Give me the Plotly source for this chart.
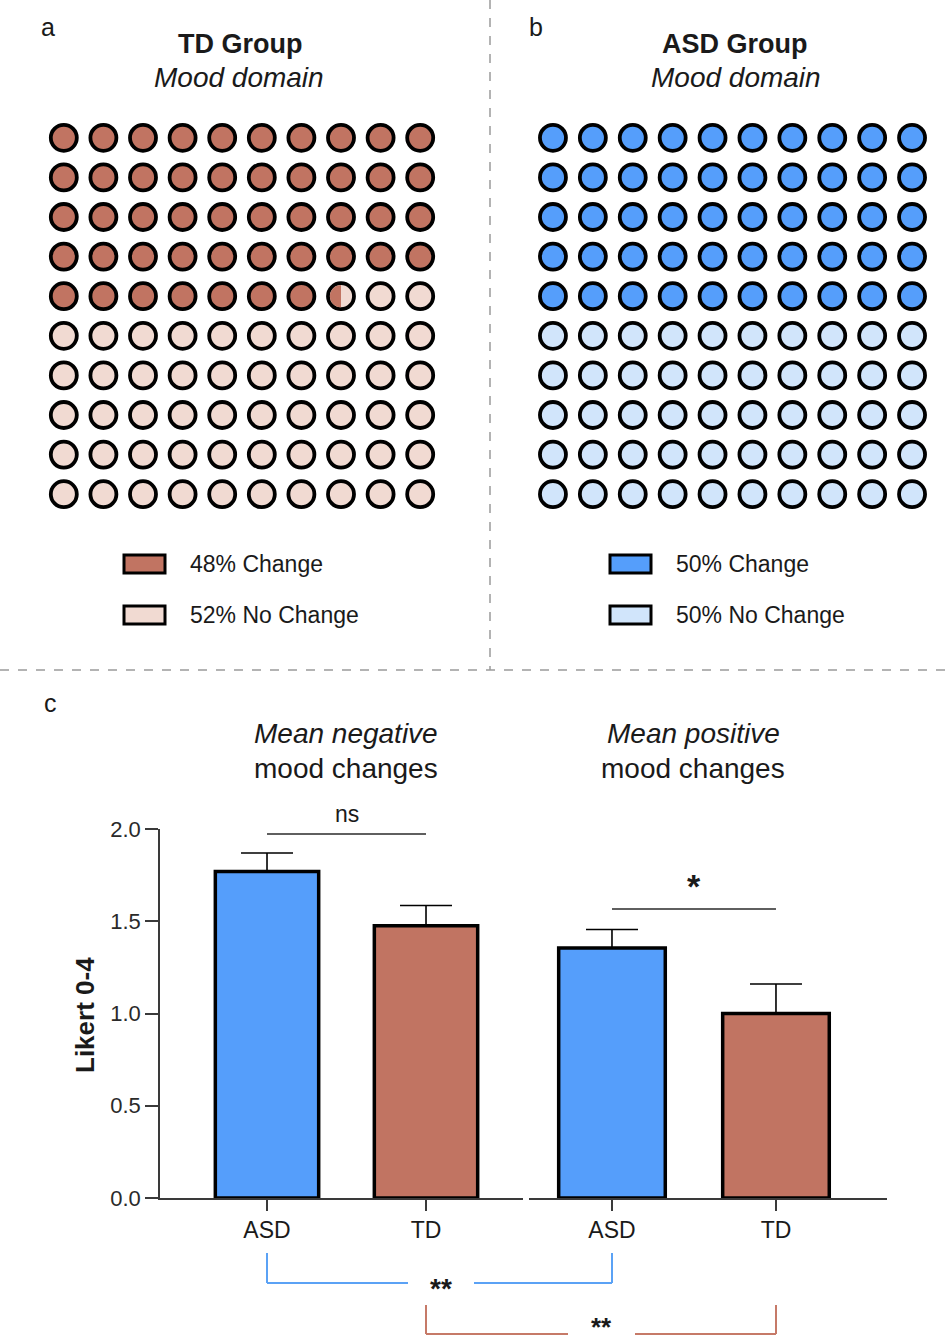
import numpy as np
import plotly.graph_objects as go

# ---------------- data ----------------
# waffle panels (percent of participants)
td_change_pct = 47.5
asd_change_pct = 50.0
td_legend_labels = ["48% Change", "52% No Change"]
asd_legend_labels = ["50% Change", "50% No Change"]

# bar panel
groups = ["ASD", "TD"]
neg_means = [1.77, 1.475]
neg_sem = [0.10, 0.11]
pos_means = [1.355, 1.00]
pos_sem = [0.10, 0.16]
ns_level = 1.973
star_level = 1.566

# ---------------- style ----------------
W, H = 946, 1342
FONT = "Liberation Sans, Arial, Helvetica, sans-serif"
TXT = "#1a1a1a"
TD_DARK = "#C17462"
TD_LIGHT = "#F1DAD2"
ASD_DARK = "#559EFB"
ASD_LIGHT = "#D1E5FB"
AXC = "#3a3a3a"


def px(x):
    return x / W


def py(y):
    return 1 - y / H


fig = go.Figure()

# ---------------- waffles ----------------
NCOL = NROW = 10
cols = np.tile(np.arange(NCOL), NROW)
rows = np.repeat(np.arange(NROW), NCOL)
MSIZE = 26
MLINE = 3.8


def waffle_colors(pct, dark, light):
    n_full = int(np.floor(pct))
    return [dark if k < n_full else light for k in range(NCOL * NROW)]


for pct, dark, light, xa, ya in [
    (td_change_pct, TD_DARK, TD_LIGHT, "x3", "y3"),
    (asd_change_pct, ASD_DARK, ASD_LIGHT, "x4", "y4"),
]:
    fig.add_trace(go.Scatter(
        x=cols, y=rows, mode="markers", xaxis=xa, yaxis=ya,
        marker=dict(size=MSIZE, color=waffle_colors(pct, dark, light),
                    line=dict(color="black", width=MLINE)),
        showlegend=False, hoverinfo="skip"))
    frac = pct - np.floor(pct)
    if frac > 0:
        k = int(np.floor(pct))
        cx, cy = cols[k], rows[k]
        r = (MSIZE / 2 - MLINE / 2) / 39.6
        cut = cx - r + 2 * r * frac
        th0 = np.arccos(np.clip((cut - cx) / r, -1, 1))
        ths = np.linspace(th0, 2 * np.pi - th0, 40)
        pts = [(cx + r * np.cos(t), cy + r * np.sin(t)) for t in ths]
        path = "M " + " L ".join(f"{a:.4f},{b:.4f}" for a, b in pts) + " Z"
        fig.add_shape(type="path", path=path, xref=xa, yref=ya,
                      fillcolor=dark, line=dict(width=0), layer="above")

# ---------------- bars ----------------
fig.add_trace(go.Bar(
    x=groups, y=neg_means, xaxis="x", yaxis="y", width=0.65,
    marker=dict(color=[ASD_DARK, TD_DARK], line=dict(color="black", width=3.5)),
    error_y=dict(type="data", symmetric=False, array=neg_sem, arrayminus=[0, 0],
                 color="black", thickness=1.6, width=26),
    showlegend=False, hoverinfo="skip"))
fig.add_trace(go.Bar(
    x=groups, y=pos_means, xaxis="x2", yaxis="y", width=0.65,
    marker=dict(color=[ASD_DARK, TD_DARK], line=dict(color="black", width=3.5)),
    error_y=dict(type="data", symmetric=False, array=pos_sem, arrayminus=[0, 0],
                 color="black", thickness=1.6, width=26),
    showlegend=False, hoverinfo="skip"))

LEFT_DOM = [px(160), px(523)]
LEFT_RNG = [-0.673, 1.61]
RIGHT_DOM = [px(529), px(887)]
RIGHT_RNG = [-0.506, 1.677]


def cat_paper(idx, dom, rng):
    return dom[0] + (idx - rng[0]) / (rng[1] - rng[0]) * (dom[1] - dom[0])


xax_common = dict(showline=True, linecolor=AXC, linewidth=1.5, ticks="outside",
                  ticklen=11, tickwidth=1.5, tickcolor=AXC, showgrid=False,
                  zeroline=False, anchor="y", automargin=False,
                  categoryorder="array", categoryarray=groups,
                  tickfont=dict(family=FONT, size=23, color=TXT))

fig.update_layout(
    width=W, height=H, margin=dict(l=0, r=0, t=0, b=0),
    paper_bgcolor="white", plot_bgcolor="rgba(0,0,0,0)",
    bargap=0.35,
    xaxis=dict(domain=LEFT_DOM, range=LEFT_RNG, **xax_common),
    xaxis2=dict(domain=RIGHT_DOM, range=RIGHT_RNG, **xax_common),
    yaxis=dict(domain=[py(1198), py(829)], range=[0, 2], anchor="x",
               tickvals=[0, 0.5, 1.0, 1.5, 2.0], tickformat=".1f",
               showline=True, linecolor=AXC, linewidth=1.5, ticks="outside",
               ticklen=13, tickwidth=1.5, tickcolor=AXC, showgrid=False,
               zeroline=False, automargin=False,
               tickfont=dict(family=FONT, size=22, color="#2a2a2a")),
    xaxis3=dict(domain=[px(44), px(440)], range=[-0.5, 9.5], visible=False, anchor="y3"),
    yaxis3=dict(domain=[py(514), py(118)], range=[9.5, -0.5], visible=False, anchor="x3"),
    xaxis4=dict(domain=[px(533), px(932)], range=[-0.5, 9.5], visible=False, anchor="y4"),
    yaxis4=dict(domain=[py(514), py(118)], range=[9.5, -0.5], visible=False, anchor="x4"),
)

# ---------------- annotations ----------------
ann = []


def text(x, y, s, size, xanchor="center", yanchor="middle", angle=0, color=TXT):
    ann.append(dict(x=px(x), y=py(y), xref="paper", yref="paper", text=s,
                    showarrow=False, xanchor=xanchor, yanchor=yanchor,
                    textangle=angle,
                    font=dict(family=FONT, size=size, color=color)))


text(48, 27, "a", 25)
text(536, 27, "b", 25)
text(50, 703, "c", 25)
text(240, 44, "<b>TD Group</b>", 27)
text(239, 78, "<i>Mood domain</i>", 28)
text(735, 44, "<b>ASD Group</b>", 27)
text(736, 78, "<i>Mood domain</i>", 28)
text(346, 733, "<i>Mean negative</i>", 28)
text(346, 768, "mood changes", 28)
text(693, 733, "<i>Mean positive</i>", 28)
text(693, 768, "mood changes", 28)
text(85, 1015, "<b>Likert 0-4</b>", 26, angle=-90)

# legends
shapes = []
for (x0, tx), labels, (dark, light) in [((124, 188), td_legend_labels, (TD_DARK, TD_LIGHT)),
                                        ((610, 674), asd_legend_labels, (ASD_DARK, ASD_LIGHT))]:
    for (yc, lab, colr) in [(564, labels[0], dark), (615, labels[1], light)]:
        shapes.append(dict(type="rect", xref="paper", yref="paper",
                           x0=px(x0), x1=px(x0 + 41), y0=py(yc - 9), y1=py(yc + 9),
                           fillcolor=colr, line=dict(color="black", width=3)))
        text(tx, yc, lab, 23, xanchor="left")

# dividers
shapes.append(dict(type="line", xref="paper", yref="paper", x0=px(490), x1=px(490),
                   y0=py(0), y1=py(670), line=dict(color="#9a9a9a", width=1.5, dash="dash")))
shapes.append(dict(type="line", xref="paper", yref="paper", x0=0, x1=1,
                   y0=py(670), y1=py(670), line=dict(color="#9a9a9a", width=1.5, dash="dash")))

# significance lines
shapes.append(dict(type="line", xref="x", yref="y", x0=0, x1=1, y0=ns_level, y1=ns_level,
                   line=dict(color="#2a2a2a", width=1.5)))
shapes.append(dict(type="line", xref="x2", yref="y", x0=0, x1=1, y0=star_level, y1=star_level,
                   line=dict(color="#2a2a2a", width=1.5)))
ann.append(dict(x=0.5, y=ns_level, xref="x", yref="y", text="ns", showarrow=False,
                yanchor="bottom", yshift=5, font=dict(family=FONT, size=23, color=TXT)))
ann.append(dict(x=0.5, y=star_level, xref="x2", yref="y", text="<b>*</b>", showarrow=False,
                yanchor="bottom", yshift=2, font=dict(family=FONT, size=34, color=TXT)))

# between-group brackets
BLUE_BR = "#5BA2F5"
RED_BR = "#C67A68"


def bracket(xa_paper, xb_paper, ytop, ybot, gap_l, gap_r, label, color, label_dy, lsize):
    segs = [
        (xa_paper, py(ytop), xa_paper, py(ybot)),
        (xa_paper, py(ybot), px(gap_l), py(ybot)),
        (px(gap_r), py(ybot), xb_paper, py(ybot)),
        (xb_paper, py(ybot), xb_paper, py(ytop)),
    ]
    for a, b, c, d in segs:
        shapes.append(dict(type="line", xref="paper", yref="paper", x0=a, y0=b, x1=c, y1=d,
                           line=dict(color=color, width=2)))
    text((gap_l + gap_r) / 2, ybot + label_dy, f"<b>{label}</b>", lsize)


bracket(cat_paper(0, LEFT_DOM, LEFT_RNG), cat_paper(0, RIGHT_DOM, RIGHT_RNG),
        1253, 1283, 408, 474, "**", BLUE_BR, 5, 28)
bracket(cat_paper(1, LEFT_DOM, LEFT_RNG), cat_paper(1, RIGHT_DOM, RIGHT_RNG),
        1305, 1334, 568, 635, "**", RED_BR, -7, 26)

fig.update_layout(annotations=ann, shapes=list(fig.layout.shapes) + shapes)

fig.write_html("out.html")
